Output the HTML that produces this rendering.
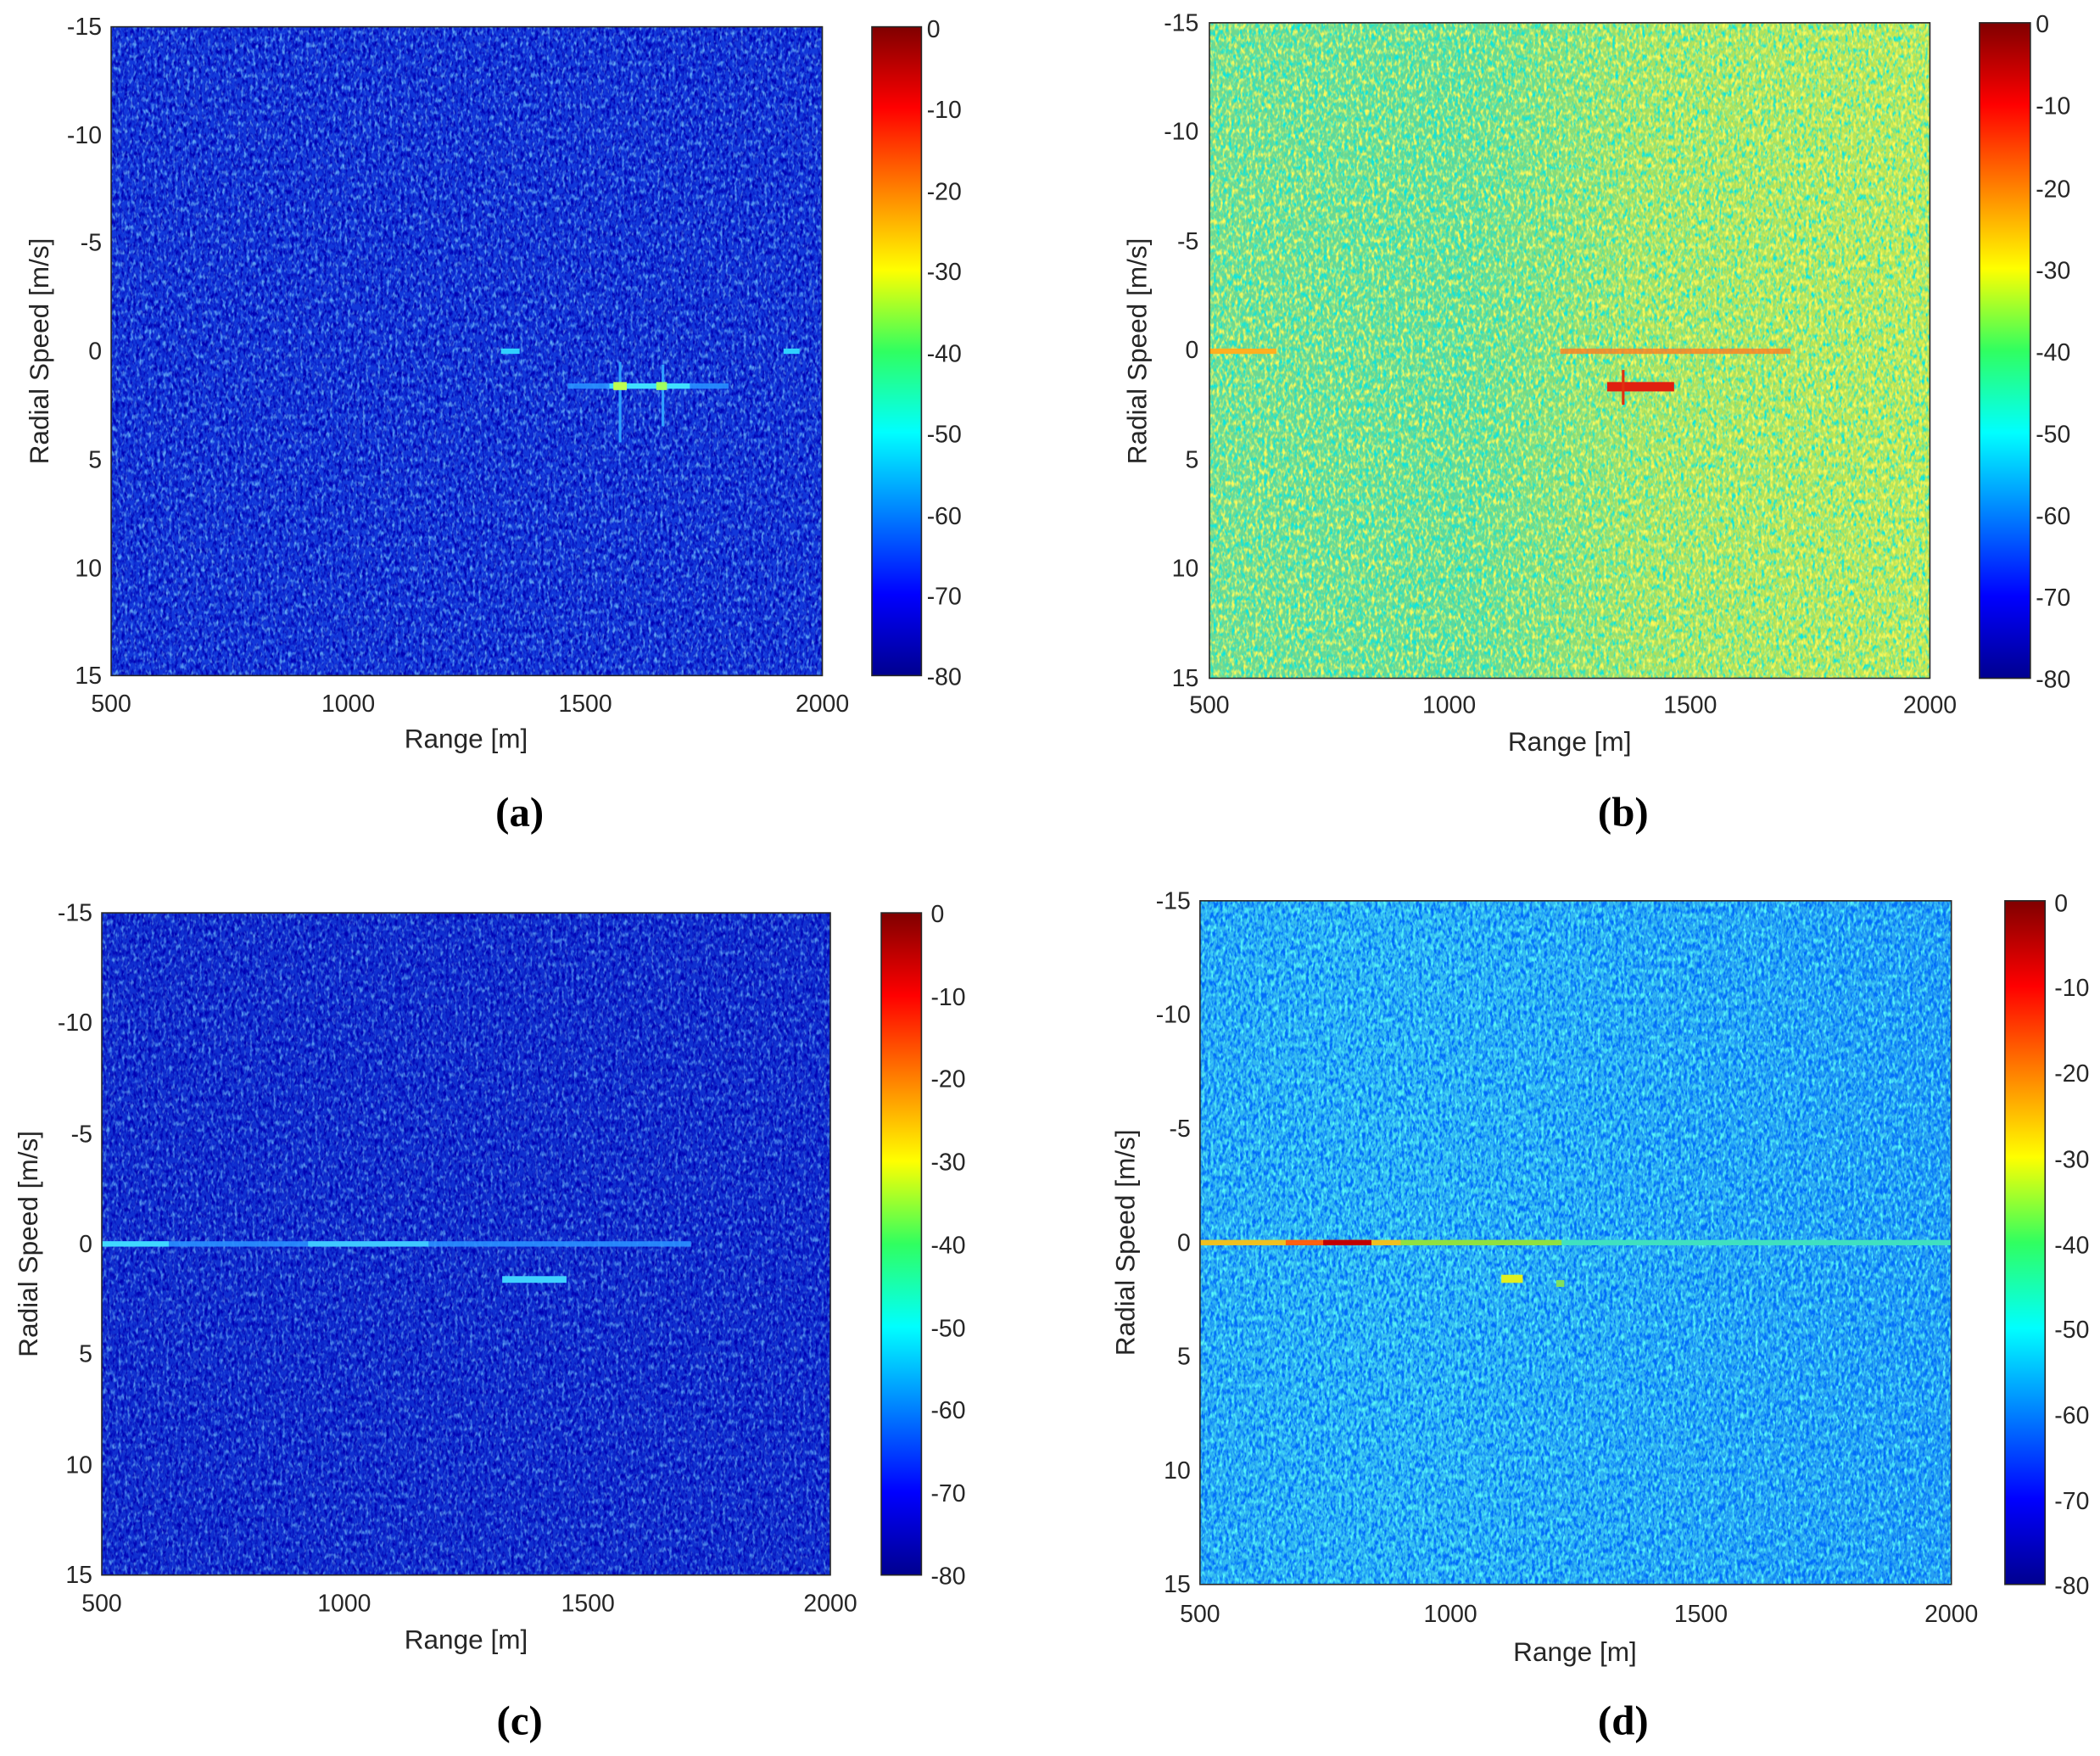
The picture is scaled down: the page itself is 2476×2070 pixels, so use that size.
<!DOCTYPE html>
<html><head><meta charset="utf-8">
<style>
html,body{margin:0;padding:0;background:#fff;}
svg{display:block;}
text{font-family:"Liberation Sans",Arial,sans-serif;fill:#262626;}
.t{font-size:18px;}
.l{font-size:20px;}
.c{font-family:"Liberation Serif",serif;font-size:31px;font-weight:bold;fill:#000;}
</style></head><body>
<svg width="2476" height="2070" viewBox="0 0 1568 1310" preserveAspectRatio="none" xmlns="http://www.w3.org/2000/svg">
<defs>
<linearGradient id="jet" x1="0" y1="1" x2="0" y2="0">
<stop offset="0" stop-color="#00008f"/>
<stop offset="0.125" stop-color="#0000ff"/>
<stop offset="0.375" stop-color="#00ffff"/>
<stop offset="0.5" stop-color="#30ff60"/>
<stop offset="0.625" stop-color="#ffff00"/>
<stop offset="0.875" stop-color="#ff0000"/>
<stop offset="1" stop-color="#800000"/>
</linearGradient>
<linearGradient id="bg_b" x1="0" y1="0" x2="1" y2="0">
<stop offset="0" stop-color="#70d890"/>
<stop offset="0.35" stop-color="#60d898"/>
<stop offset="0.6" stop-color="#a8e060"/>
<stop offset="1" stop-color="#c0e450"/>
</linearGradient>
<linearGradient id="bg_d" x1="0" y1="0" x2="1" y2="0">
<stop offset="0" stop-color="#30b4f0"/>
<stop offset="0.25" stop-color="#36c0f0"/>
<stop offset="1" stop-color="#28a0f0"/>
</linearGradient>
<filter id="nd" x="0" y="0" width="1" height="1">
<feTurbulence type="fractalNoise" baseFrequency="0.45 0.22" numOctaves="2" seed="3"/>
<feColorMatrix type="matrix" values="0 0 0 0 0  0 0 0 0 0  0 0 0 0 0.45  3 0 0 0 -1.25"/>
</filter>
<filter id="nl" x="0" y="0" width="1" height="1">
<feTurbulence type="fractalNoise" baseFrequency="0.45 0.22" numOctaves="2" seed="11"/>
<feColorMatrix type="matrix" values="0 0 0 0 0.2  0 0 0 0 0.6  0 0 0 0 1  3 0 0 0 -1.5"/>
</filter>
<filter id="nbd" x="0" y="0" width="1" height="1">
<feTurbulence type="fractalNoise" baseFrequency="0.45 0.22" numOctaves="2" seed="5"/>
<feColorMatrix type="matrix" values="0 0 0 0 0  0 0 0 0 0.8  0 0 0 0 0.8  3 0 0 0 -1.35"/>
</filter>
<filter id="nbl" x="0" y="0" width="1" height="1">
<feTurbulence type="fractalNoise" baseFrequency="0.45 0.22" numOctaves="2" seed="8"/>
<feColorMatrix type="matrix" values="0 0 0 0 1  0 0 0 0 0.95  0 0 0 0 0.1  3 0 0 0 -1.35"/>
</filter>
<filter id="ndd" x="0" y="0" width="1" height="1">
<feTurbulence type="fractalNoise" baseFrequency="0.45 0.22" numOctaves="2" seed="4"/>
<feColorMatrix type="matrix" values="0 0 0 0 0  0 0 0 0 0.15  0 0 0 0 0.95  3.5 0 0 0 -1.35"/>
</filter>
<filter id="ndl" x="0" y="0" width="1" height="1">
<feTurbulence type="fractalNoise" baseFrequency="0.45 0.22" numOctaves="2" seed="9"/>
<feColorMatrix type="matrix" values="0 0 0 0 0.1  0 0 0 0 0.95  0 0 0 0 0.95  3 0 0 0 -1.4"/>
</filter>
</defs>

<!-- Panel a -->
<rect x="83" y="20" width="531" height="484" fill="#1238da"/>
<rect x="83" y="20" width="531" height="484" filter="url(#nd)"/>
<rect x="83" y="20" width="531" height="484" filter="url(#nl)" opacity="0.75"/>
<rect x="374" y="260" width="14" height="4" fill="#30d0ff"/>
<rect x="585" y="260" width="12" height="4" fill="#30d0ff"/>
<rect x="424" y="286" width="120" height="4" fill="#2890ff" opacity="0.9"/>
<rect x="455" y="286" width="60" height="4" fill="#40e0ff"/>
<rect x="462" y="270" width="2" height="60" fill="#30a0ff"/>
<rect x="494" y="272" width="2" height="46" fill="#30a0ff"/>
<rect x="458" y="285" width="10" height="6" fill="#c0ff50"/>
<rect x="490" y="285" width="8" height="6" fill="#a0ff60"/>
<rect x="83" y="20" width="531" height="484" fill="none" stroke="#262626" stroke-width="1"/>
<g class="t" text-anchor="end">
<text x="76" y="26">-15</text><text x="76" y="107">-10</text><text x="76" y="187">-5</text><text x="76" y="268">0</text><text x="76" y="349">5</text><text x="76" y="430">10</text><text x="76" y="510">15</text>
</g>
<g class="t" text-anchor="middle">
<text x="83" y="531">500</text><text x="260" y="531">1000</text><text x="437" y="531">1500</text><text x="614" y="531">2000</text>
</g>
<text class="l" x="348" y="558" text-anchor="middle">Range [m]</text>
<text class="l" transform="translate(36,262) rotate(-90)" text-anchor="middle">Radial Speed [m/s]</text>
<rect x="651" y="20" width="37" height="484" fill="url(#jet)" stroke="#262626" stroke-width="1"/>
<g class="t"><text x="692" y="28">0</text><text x="692" y="88">-10</text><text x="692" y="149">-20</text><text x="692" y="209">-30</text><text x="692" y="270">-40</text><text x="692" y="330">-50</text><text x="692" y="391">-60</text><text x="692" y="451">-70</text><text x="692" y="511">-80</text></g>
<text class="c" x="388" y="616" text-anchor="middle">(a)</text>

<!-- Panel b -->
<rect x="903" y="17" width="538" height="489" fill="url(#bg_b)"/>
<rect x="903" y="17" width="538" height="489" filter="url(#nbd)"/>
<rect x="903" y="17" width="538" height="489" filter="url(#nbl)"/>
<rect x="903" y="260" width="50" height="4" fill="#ffb020"/>
<rect x="1165" y="260" width="172" height="4" fill="#ff8020" opacity="0.8"/>
<rect x="1200" y="285" width="50" height="7" fill="#e02010"/>
<rect x="1211" y="276" width="2" height="26" fill="#e03010"/>
<rect x="903" y="17" width="538" height="489" fill="none" stroke="#262626" stroke-width="1"/>
<g class="t" text-anchor="end">
<text x="895" y="23">-15</text><text x="895" y="104">-10</text><text x="895" y="186">-5</text><text x="895" y="267">0</text><text x="895" y="349">5</text><text x="895" y="430">10</text><text x="895" y="512">15</text>
</g>
<g class="t" text-anchor="middle">
<text x="903" y="532">500</text><text x="1082" y="532">1000</text><text x="1262" y="532">1500</text><text x="1441" y="532">2000</text>
</g>
<text class="l" x="1172" y="560" text-anchor="middle">Range [m]</text>
<text class="l" transform="translate(856,262) rotate(-90)" text-anchor="middle">Radial Speed [m/s]</text>
<rect x="1478" y="17" width="38" height="489" fill="url(#jet)" stroke="#262626" stroke-width="1"/>
<g class="t"><text x="1520" y="24">0</text><text x="1520" y="85">-10</text><text x="1520" y="147">-20</text><text x="1520" y="208">-30</text><text x="1520" y="269">-40</text><text x="1520" y="330">-50</text><text x="1520" y="391">-60</text><text x="1520" y="452">-70</text><text x="1520" y="513">-80</text></g>
<text class="c" x="1212" y="616" text-anchor="middle">(b)</text>

<!-- Panel c -->
<rect x="76" y="681" width="544" height="494" fill="#1030d0"/>
<rect x="76" y="681" width="544" height="494" filter="url(#nd)"/>
<rect x="76" y="681" width="544" height="494" filter="url(#nl)" opacity="0.65"/>
<rect x="76" y="926" width="440" height="4" fill="#2a90ff" opacity="0.9"/>
<rect x="76" y="926" width="50" height="4" fill="#40d8ff"/>
<rect x="230" y="926" width="90" height="4" fill="#40c8ff"/>
<rect x="375" y="952" width="48" height="5" fill="#40d0ff"/>
<rect x="76" y="681" width="544" height="494" fill="none" stroke="#262626" stroke-width="1"/>
<g class="t" text-anchor="end">
<text x="69" y="687">-15</text><text x="69" y="769">-10</text><text x="69" y="852">-5</text><text x="69" y="934">0</text><text x="69" y="1016">5</text><text x="69" y="1099">10</text><text x="69" y="1181">15</text>
</g>
<g class="t" text-anchor="middle">
<text x="76" y="1202">500</text><text x="257" y="1202">1000</text><text x="439" y="1202">1500</text><text x="620" y="1202">2000</text>
</g>
<text class="l" x="348" y="1230" text-anchor="middle">Range [m]</text>
<text class="l" transform="translate(28,928) rotate(-90)" text-anchor="middle">Radial Speed [m/s]</text>
<rect x="658" y="681" width="30" height="494" fill="url(#jet)" stroke="#262626" stroke-width="1"/>
<g class="t"><text x="695" y="688">0</text><text x="695" y="750">-10</text><text x="695" y="811">-20</text><text x="695" y="873">-30</text><text x="695" y="935">-40</text><text x="695" y="997">-50</text><text x="695" y="1058">-60</text><text x="695" y="1120">-70</text><text x="695" y="1182">-80</text></g>
<text class="c" x="388" y="1294" text-anchor="middle">(c)</text>

<!-- Panel d -->
<rect x="896" y="672" width="561" height="510" fill="url(#bg_d)"/>
<rect x="896" y="672" width="561" height="510" filter="url(#ndd)"/>
<rect x="896" y="672" width="561" height="510" filter="url(#ndl)"/>
<rect x="896" y="925" width="561" height="4" fill="#40e0c0"/>
<rect x="896" y="925" width="150" height="4" fill="#f0c020"/>
<rect x="960" y="925" width="60" height="4" fill="#ff6010"/>
<rect x="988" y="925" width="36" height="4" fill="#c00000"/>
<rect x="1046" y="925" width="120" height="4" fill="#90e040"/>
<rect x="1121" y="951" width="16" height="6" fill="#e0f020"/>
<rect x="1162" y="955" width="6" height="5" fill="#80e060"/>
<rect x="896" y="672" width="561" height="510" fill="none" stroke="#262626" stroke-width="1"/>
<g class="t" text-anchor="end">
<text x="889" y="678">-15</text><text x="889" y="763">-10</text><text x="889" y="848">-5</text><text x="889" y="933">0</text><text x="889" y="1018">5</text><text x="889" y="1103">10</text><text x="889" y="1188">15</text>
</g>
<g class="t" text-anchor="middle">
<text x="896" y="1210">500</text><text x="1083" y="1210">1000</text><text x="1270" y="1210">1500</text><text x="1457" y="1210">2000</text>
</g>
<text class="l" x="1176" y="1239" text-anchor="middle">Range [m]</text>
<text class="l" transform="translate(847,927) rotate(-90)" text-anchor="middle">Radial Speed [m/s]</text>
<rect x="1497" y="672" width="30" height="510" fill="url(#jet)" stroke="#262626" stroke-width="1"/>
<g class="t"><text x="1534" y="680">0</text><text x="1534" y="743">-10</text><text x="1534" y="807">-20</text><text x="1534" y="871">-30</text><text x="1534" y="935">-40</text><text x="1534" y="998">-50</text><text x="1534" y="1062">-60</text><text x="1534" y="1126">-70</text><text x="1534" y="1189">-80</text></g>
<text class="c" x="1212" y="1294" text-anchor="middle">(d)</text>
</svg>
</body></html>
